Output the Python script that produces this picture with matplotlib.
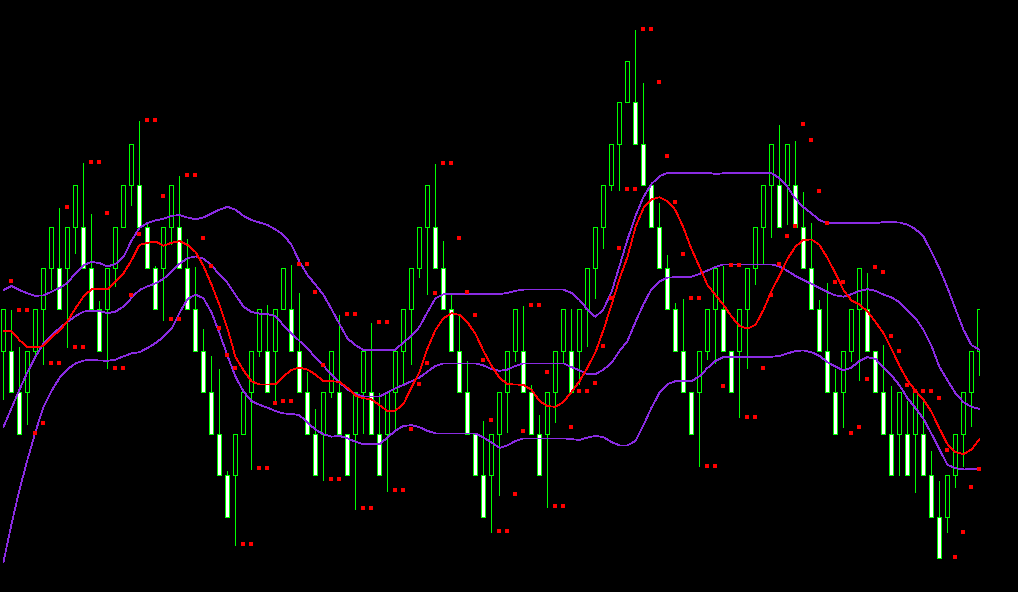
import numpy as np
import matplotlib
matplotlib.use("Agg")
import matplotlib.pyplot as plt

# Renko-style bricks (brick units), one row per bar
opens = [5, 5, 4, 4, 5, 6, 7, 7, 7, 8, 8, 7, 6, 6, 7, 8, 9, 9, 8, 7,
         7, 8, 8, 7, 6, 5, 4, 3, 2, 2, 3, 4, 5, 5, 5, 6, 6, 5, 4, 3,
         3, 4, 4, 3, 3, 4, 4, 3, 3, 4, 5, 6, 7, 8, 8, 7, 6, 5, 4, 3,
         2, 2, 3, 4, 5, 5, 4, 3, 3, 4, 5, 5, 5, 6, 7, 8, 9, 10, 11, 11,
         10, 9, 8, 7, 6, 5, 4, 4, 5, 6, 6, 5, 5, 6, 7, 8, 9, 9, 9, 9,
         8, 7, 6, 5, 4, 4, 5, 6, 6, 5, 4, 3, 3, 3, 3, 3, 2, 1, 1, 2,
         3, 4, 5]
closes = [6, 4, 3, 5, 6, 7, 8, 6, 8, 9, 7, 6, 5, 7, 8, 9, 10, 8, 7, 6,
          8, 9, 7, 6, 5, 4, 3, 2, 1, 3, 4, 5, 6, 4, 6, 7, 5, 4, 3, 2,
          4, 5, 3, 2, 4, 5, 3, 2, 4, 5, 6, 7, 8, 9, 7, 6, 5, 4, 3, 2,
          1, 3, 4, 5, 6, 4, 3, 2, 4, 5, 6, 4, 6, 7, 8, 9, 10, 11, 12, 10,
          9, 8, 7, 6, 5, 4, 3, 5, 6, 7, 5, 4, 6, 7, 8, 9, 10, 8, 10, 8,
          7, 6, 5, 4, 3, 5, 6, 7, 5, 4, 3, 2, 4, 2, 4, 2, 1, 0, 2, 3,
          4, 5, 6]
highs = [6, 6.0, 5.11, 5, 6, 7, 8, 8.45, 8, 9, 9.54, 8.32, 6.22, 7, 8, 9, 10, 10.57, 8.12, 7.06,
         8, 9, 9.23, 7.7, 7.04, 5.54, 4.89, 4.57, 2.11, 3, 4, 5, 6, 6.12, 6, 7, 7.08, 6.4, 4.51, 3.6,
         4, 5, 5.88, 3, 4, 5, 5.69, 4.0, 4, 5, 6, 7, 8, 9, 9.52, 7.66, 6.4, 5.85, 4.77, 3,
         3.32, 3, 4, 5, 6, 6.1, 4.19, 3.46, 4, 5, 6, 6.02, 6, 7, 8, 9, 10, 11, 12, 12.76,
         11.47, 9, 8.57, 7.33, 6.16, 6.26, 4, 5, 6, 7, 7.06, 5, 6, 7, 8, 9, 10, 10.46, 10, 10.08,
         8.84, 8.09, 6.24, 6.64, 4.57, 5, 6, 7, 6.88, 5, 5.15, 4.16, 4, 3.8, 4, 3.83, 2.6, 1.87, 2, 3,
         4, 5, 6]
lows = [3.83, 4, 3, 3.22, 4.87, 4.67, 6.48, 6, 5.07, 7.35, 7, 6, 5, 4.57, 6.55, 8, 8.51, 8, 7, 6,
        5.74, 7.57, 7, 6, 5, 4, 3, 2, 1, 0.31, 3, 2.14, 4.87, 4, 3.75, 6, 5, 4, 3, 2,
        1.87, 3.87, 3, 2, 1.17, 3.0, 3, 2, 1.61, 3.1, 4.19, 4.67, 6.76, 6.36, 7, 6, 5, 4, 3, 2,
        1, 0.62, 1.51, 3.04, 4.75, 4, 3, 2, 1.23, 3.26, 4.71, 4, 4.19, 5.1, 6.26, 7.46, 8.88, 8.88, 11, 10,
        9, 8, 7, 6, 5, 4, 3, 2.2, 4.79, 4.69, 5, 4, 3.38, 4.57, 6.6, 7.11, 7.74, 8, 8.05, 8,
        7, 6, 5, 4, 3, 3.14, 4.75, 4.29, 5, 4, 3, 2, 2.0, 2, 1.57, 2, 1, 0, 0.61, 1.69,
        2.2, 3.18, 4.41]

# trailing stop dots
stops = [np.nan, 6.69, 6.01, 6.01, 3.02, 3.26, 4.71, 4.71, 8.48, 5.10,
         5.10, 9.56, 9.56, 8.33, 4.59, 4.59, 6.35, 7.83, 10.58, 10.58,
         8.74, 5.77, 5.77, 9.25, 9.25, 7.73, 7.05, 5.56, 4.90, 4.59,
         0.34, 0.34, 2.18, 2.18, 3.75, 3.79, 3.79, 7.10, 7.10, 6.43,
         4.66, 1.91, 1.91, 5.89, 5.89, 1.21, 1.21, 5.70, 5.70, 1.65,
         1.65, 3.12, 4.20, 4.71, 6.40, 9.54, 9.54, 7.73, 6.43, 5.87,
         4.78, 3.34, 0.66, 0.66, 1.55, 3.07, 6.11, 6.11, 4.49, 1.26,
         1.26, 3.17, 4.04, 4.04, 4.23, 5.12, 6.28, 7.49, 8.91, 8.91,
         12.77, 12.77, 11.49, 9.71, 8.60, 7.34, 6.28, 6.28, 2.23, 2.23,
         4.16, 7.08, 7.08, 3.41, 3.41, 4.59, 6.35, 7.12, 7.78, 8.02,
         10.48, 10.09, 8.86, 8.11, 6.67, 6.67, 3.02, 3.17, 4.33, 7.03,
         6.91, 5.36, 5.02, 4.18, 4.04, 4.04, 4.04, 3.87, 2.61, 0.03,
         0.63, 1.72, 2.15]

# smoothed average (red)
signal = [5.49, 5.49, 5.27, 5.10, 5.10, 5.13, 5.34, 5.50, 5.73, 6.04,
          6.32, 6.50, 6.50, 6.50, 6.68, 6.88, 7.20, 7.57, 7.62, 7.65,
          7.55, 7.62, 7.66, 7.57, 7.40, 7.06, 6.61, 6.12, 5.55, 4.86,
          4.54, 4.28, 4.20, 4.20, 4.21, 4.40, 4.55, 4.61, 4.56, 4.44,
          4.28, 4.28, 4.26, 4.12, 3.93, 3.87, 3.84, 3.70, 3.56, 3.57,
          3.73, 4.13, 4.50, 5.07, 5.52, 5.80, 5.92, 5.88, 5.70, 5.42,
          5.01, 4.65, 4.36, 4.21, 4.20, 4.19, 4.07, 3.80, 3.68, 3.66,
          3.78, 4.02, 4.28, 4.61, 4.98, 5.52, 6.12, 6.75, 7.28, 8.00,
          8.46, 8.67, 8.72, 8.62, 8.41, 7.98, 7.47, 7.04, 6.60, 6.36,
          6.12, 5.84, 5.61, 5.55, 5.64, 6.00, 6.46, 6.83, 7.23, 7.53,
          7.69, 7.70, 7.57, 7.25, 6.88, 6.48, 6.23, 6.13, 5.96, 5.71,
          5.44, 5.06, 4.65, 4.30, 4.05, 3.83, 3.54, 3.13, 2.76, 2.57,
          2.52, 2.63, 2.88]

# band lines (purple)
upper = [6.48, 6.58, 6.48, 6.40, 6.34, 6.35, 6.44, 6.53, 6.65, 6.89,
         7.08, 7.16, 7.13, 7.05, 7.11, 7.28, 7.67, 7.98, 8.10, 8.16,
         8.20, 8.27, 8.29, 8.23, 8.19, 8.23, 8.33, 8.42, 8.49, 8.42,
         8.27, 8.17, 8.11, 8.05, 7.94, 7.81, 7.57, 7.16, 6.84, 6.61,
         6.36, 6.02, 5.66, 5.31, 5.15, 5.03, 5.03, 5.03, 5.03, 5.04,
         5.22, 5.37, 5.59, 5.95, 6.28, 6.38, 6.38, 6.38, 6.38, 6.38,
         6.38, 6.38, 6.38, 6.41, 6.46, 6.49, 6.49, 6.49, 6.49, 6.49,
         6.49, 6.41, 6.24, 6.01, 5.83, 6.02, 6.43, 7.06, 7.70, 8.27,
         8.73, 9.04, 9.23, 9.31, 9.31, 9.31, 9.31, 9.31, 9.31, 9.28,
         9.30, 9.30, 9.30, 9.30, 9.30, 9.30, 9.30, 9.18, 8.97, 8.68,
         8.48, 8.33, 8.17, 8.09, 8.09, 8.09, 8.09, 8.09, 8.09, 8.09,
         8.12, 8.12, 8.11, 8.06, 7.95, 7.77, 7.40, 7.00, 6.53, 6.02,
         5.52, 5.15, 5.04]
middle = [3.18, 3.63, 4.08, 4.50, 4.87, 5.19, 5.39, 5.56, 5.71, 5.85,
          5.96, 5.98, 5.97, 5.92, 5.96, 6.08, 6.29, 6.48, 6.57, 6.64,
          6.75, 6.92, 7.11, 7.25, 7.29, 7.24, 7.08, 6.85, 6.65, 6.36,
          6.08, 5.95, 5.91, 5.90, 5.85, 5.63, 5.44, 5.25, 5.06, 4.86,
          4.65, 4.44, 4.25, 4.08, 3.97, 3.91, 3.91, 3.91, 4.01, 4.11,
          4.19, 4.28, 4.37, 4.51, 4.65, 4.71, 4.71, 4.71, 4.71, 4.71,
          4.66, 4.57, 4.53, 4.56, 4.65, 4.71, 4.71, 4.71, 4.71, 4.71,
          4.71, 4.62, 4.54, 4.45, 4.45, 4.56, 4.72, 5.01, 5.25, 5.71,
          6.14, 6.50, 6.69, 6.78, 6.79, 6.79, 6.80, 6.87, 6.95, 7.04,
          7.10, 7.10, 7.10, 7.10, 7.10, 7.10, 7.10, 7.05, 6.94, 6.82,
          6.72, 6.63, 6.53, 6.43, 6.35, 6.32, 6.38, 6.46, 6.50, 6.46,
          6.37, 6.30, 6.19, 5.99, 5.80, 5.52, 5.13, 4.62, 4.30, 3.99,
          3.77, 3.66, 3.61]
lower = [-0.08, 0.83, 1.66, 2.39, 3.06, 3.66, 4.04, 4.36, 4.57, 4.71,
         4.78, 4.79, 4.78, 4.77, 4.80, 4.88, 4.95, 4.98, 5.08, 5.20,
         5.35, 5.54, 5.93, 6.26, 6.37, 6.28, 5.94, 5.44, 4.89, 4.39,
         4.03, 3.80, 3.71, 3.64, 3.56, 3.50, 3.49, 3.46, 3.28, 3.11,
         3.00, 2.94, 2.96, 2.90, 2.82, 2.76, 2.76, 2.76, 2.92, 3.09,
         3.20, 3.22, 3.17, 3.08, 3.02, 3.02, 3.02, 3.02, 3.02, 3.02,
         2.92, 2.80, 2.67, 2.73, 2.84, 2.90, 2.90, 2.90, 2.90, 2.90,
         2.90, 2.88, 2.86, 2.92, 2.96, 2.93, 2.81, 2.73, 2.73, 2.84,
         3.22, 3.64, 4.00, 4.21, 4.28, 4.28, 4.28, 4.40, 4.60, 4.77,
         4.86, 4.87, 4.87, 4.87, 4.87, 4.87, 4.87, 4.89, 4.95, 5.01,
         5.02, 4.98, 4.89, 4.74, 4.63, 4.54, 4.61, 4.77, 4.86, 4.82,
         4.60, 4.42, 4.18, 3.87, 3.63, 3.37, 3.01, 2.63, 2.26, 2.18,
         2.15, 2.16, 2.17]

x = np.arange(len(opens))
o = np.array(opens, float)
c = np.array(closes, float)
h = np.array(highs, float)
l = np.array(lows, float)
up = c > o
bot = np.minimum(o, c)

px_x = 1 / 8        # one pixel along x (bars are 8 px apart)
px_y = 1 / 41.43    # one pixel along y (a brick is ~41 px tall)

fig = plt.figure(figsize=(10.18, 5.92), dpi=100, facecolor="black")
ax = fig.add_axes([0, 0, 980 / 1018, 1])
ax.set_facecolor("black")

green = "#00ff00"
# wicks as 1 px wide bars
ax.bar(x, h - l, bottom=l, width=px_x, color=green, lw=0,
       antialiased=False, zorder=2)
# body outline (green) then fill inset by one pixel
ax.bar(x, np.abs(c - o) + px_y, bottom=bot - px_y / 2, width=5 * px_x,
       color=green, lw=0, antialiased=False, zorder=3)
ax.bar(x, np.abs(c - o) - px_y, bottom=bot + px_y / 2, width=3 * px_x,
       color=np.where(up, "black", "white"), lw=0, antialiased=False, zorder=4)

for band in (upper, middle, lower):
    ax.plot(x, band, color="#8a2be2", lw=0.5, antialiased=False, zorder=5)
ax.plot(x, signal, color="red", lw=0.5, antialiased=False, zorder=6)

ax.plot(x - px_x, stops, ls="none", marker="s", ms=2.9, mew=0,
        color="red", zorder=7)

ax.set_xlim(-3.5 / 8, (980 - 3.5) / 8)
ax.set_ylim((558.5 - 592) / 41.43, 558.5 / 41.43)
ax.axis("off")

fig.savefig("out.png", dpi=100, facecolor="black")
